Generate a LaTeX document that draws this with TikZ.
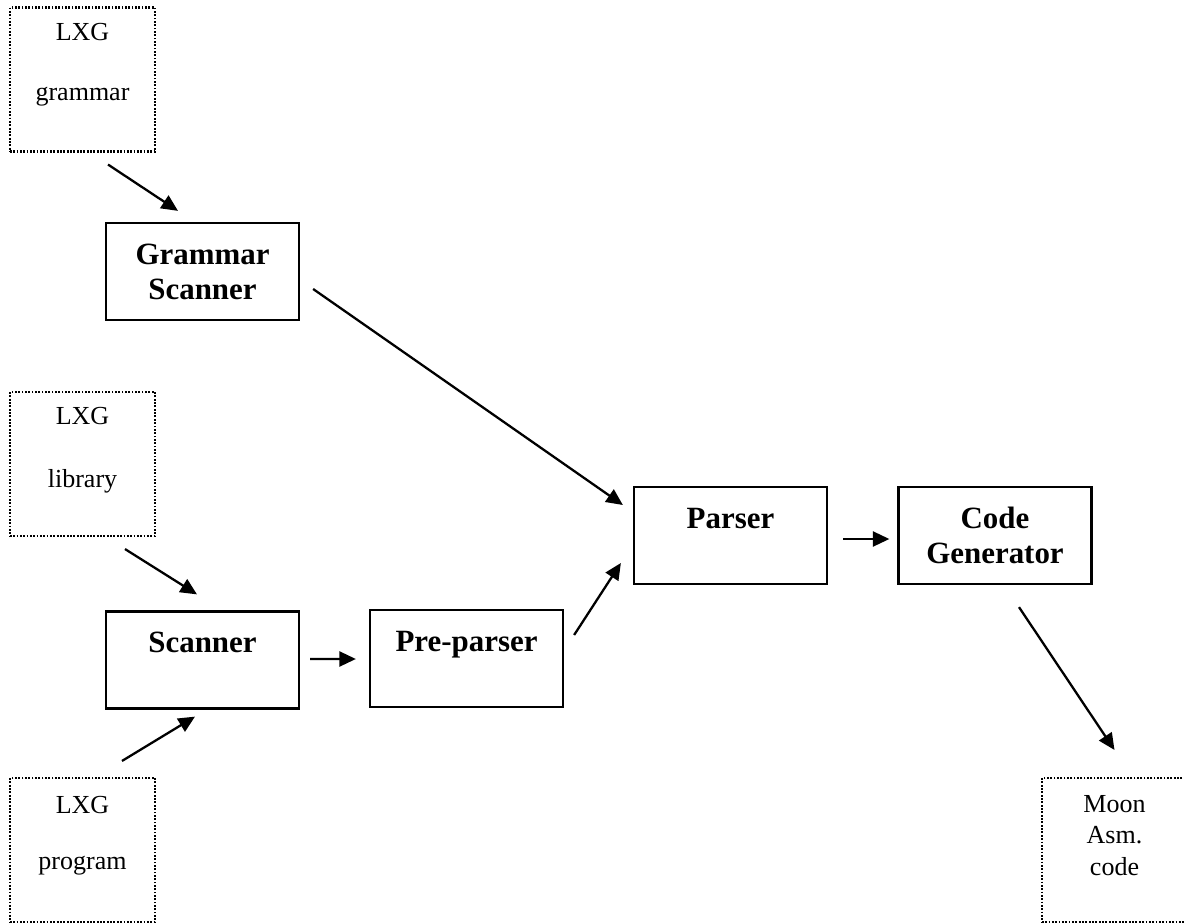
\documentclass[tikz,border=0pt]{standalone}
\usepackage{fontspec}
\setmainfont{Liberation Serif}
\usetikzlibrary{arrows.meta,calc}
\begin{document}
\begin{tikzpicture}[x=0.02cm,y=-0.02cm,
  stage/.style={draw,line width=1.3pt,minimum width=3.86cm,minimum height=1.94cm,
    inner sep=0pt,align=center,font=\fontsize{17.6}{20}\selectfont\bfseries},
  src/.style={draw,line width=1.2pt,dash pattern=on 1pt off 0.9pt,
    minimum width=2.9cm,minimum height=2.88cm,inner sep=0pt},
  srctxt/.style={inner sep=0pt,align=center,font=\fontsize{14.8}{17.9}\selectfont},
  flow/.style={line width=1.3pt,-{Triangle[length=0.33cm,width=0.3cm]}}]
\useasboundingbox (0,0) rectangle (1184,923);

% input files
\node[src] (gram) at (82.5,79.5) {};
\node[srctxt] (gramA) at ($(gram.north)+(0,26)$) {LXG};
\node[srctxt] (gramB) at ($(gram.north)+(0,90)$) {grammar};
\node[src] (lib) at (82.5,464) {};
\node[srctxt] (libA) at ($(lib.north)+(0,25)$) {LXG};
\node[srctxt] (libB) at ($(lib.north)+(0,90)$) {library};
\node[src] (prog) at (82.5,850) {};
\node[srctxt] (progA) at ($(prog.north)+(0,28)$) {LXG};
\node[srctxt] (progB) at ($(prog.north)+(0,89)$) {program};

% compiler stages
\node[stage] (gscan) at (202.5,271.5) {Grammar\\Scanner};
\node[stage] (scan) at (202.5,660) {Scanner\\\mbox{}};
\node[stage] (pre) at (466.5,658.5) {Pre-parser\\\mbox{}};
\node[stage] (parser) at (730.5,535.5) {Parser\\\mbox{}};
\node[stage] (cg) at (995,535.5) {Code\\Generator};

% output
\node[src] (moon) at (1114.5,850) {};
\node[srctxt] (moonA) at ($(moon.north)+(0,58.5)$) {Moon\\Asm.\\code};

\draw[flow] ($(gram.south)+(25.5,12)$) -- ($(gscan.north)+(-24.5,-11)$);
\draw[flow] ($(gscan.east)+(13,17.5)$) -- ($(parser.west)+(-10,-30.5)$);
\draw[flow] ($(lib.south)+(42.5,12)$) -- ($(scan.north)+(-5.5,-16)$);
\draw[flow] ($(prog.north)+(39.5,-16)$) -- ($(scan.south)+(-7.5,7)$);
\draw[flow] ($(scan.east)+(10,-1)$) -- ($(pre.west)+(-13,0.5)$);
\draw[flow] ($(pre.east)+(10,-23.5)$) -- ($(parser.west)+(-12,27.5)$);
\draw[flow] ($(parser.east)+(15,3.5)$) -- ($(cg.west)+(-8,3.5)$);
\draw[flow] ($(cg.south)+(24,22)$) -- ($(moon.north)+(0,-27)$);
\end{tikzpicture}
\end{document}
